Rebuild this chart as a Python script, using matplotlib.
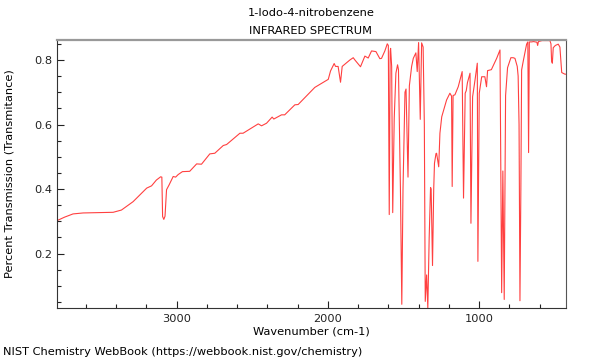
import matplotlib
matplotlib.use("Agg")
import matplotlib.pyplot as plt
from matplotlib.ticker import MultipleLocator

title = "1-Iodo-4-nitrobenzene"
subtitle = "INFRARED SPECTRUM"
xlabel = "Wavenumber (cm-1)"
ylabel = "Percent Transmission (Transmitance)"
footer = "NIST Chemistry WebBook (https://webbook.nist.gov/chemistry)"

wavenumber = [
    3791, 3740, 3684, 3617, 3500, 3419, 3364, 3287, 3197, 3165, 3133, 3105, 3097,
    3092, 3084, 3076, 3066, 3049, 3022, 3006, 2989, 2961, 2913, 2867, 2835, 2780,
    2747, 2691, 2669, 2581, 2560, 2460, 2438, 2405, 2368, 2357, 2306, 2285, 2218,
    2196, 2086, 1997, 1982, 1958, 1949, 1932, 1916, 1905, 1854, 1832, 1821, 1784,
    1755, 1733, 1711, 1682, 1656, 1645, 1623, 1607, 1600, 1594, 1588, 1585, 1578,
    1571, 1561, 1550, 1539, 1533, 1520, 1511, 1503, 1490, 1483, 1470, 1461, 1446,
    1435, 1418, 1409, 1400, 1389, 1380, 1370, 1362, 1356, 1347, 1339, 1330, 1321,
    1317, 1308, 1300, 1295, 1285, 1281, 1267, 1259, 1247, 1215, 1193, 1182, 1178,
    1172, 1160, 1138, 1112, 1103, 1092, 1085, 1077, 1060, 1054, 1043, 1027, 1012,
    1008, 999, 983, 962, 951, 944, 919, 884, 862, 851, 843, 834, 825, 812, 790,
    775, 763, 748, 742, 736, 730, 724, 719, 708, 686, 678, 673, 668, 653, 640,
    618, 613, 608, 584, 532, 525, 521, 516, 510, 496, 477, 466, 454, 433, 427,
]
transmittance = [
    0.302, 0.313, 0.323, 0.326, 0.327, 0.328, 0.335, 0.361, 0.403, 0.410, 0.428, 0.438, 0.437,
    0.315, 0.306, 0.316, 0.398, 0.413, 0.439, 0.437, 0.445, 0.454, 0.455, 0.478, 0.477, 0.509,
    0.511, 0.535, 0.538, 0.573, 0.573, 0.602, 0.596, 0.604, 0.623, 0.617, 0.630, 0.630, 0.661,
    0.662, 0.715, 0.740, 0.766, 0.789, 0.780, 0.780, 0.731, 0.780, 0.800, 0.807, 0.800, 0.779,
    0.812, 0.806, 0.828, 0.826, 0.804, 0.805, 0.828, 0.850, 0.845, 0.321, 0.826, 0.836, 0.780,
    0.327, 0.620, 0.759, 0.785, 0.770, 0.400, 0.043, 0.400, 0.700, 0.710, 0.437, 0.720, 0.780,
    0.805, 0.822, 0.764, 0.854, 0.616, 0.853, 0.840, 0.600, 0.052, 0.134, 0.031, 0.250, 0.405,
    0.400, 0.163, 0.400, 0.480, 0.510, 0.511, 0.469, 0.573, 0.624, 0.676, 0.697, 0.688, 0.408,
    0.690, 0.692, 0.717, 0.764, 0.372, 0.697, 0.705, 0.730, 0.759, 0.294, 0.686, 0.738, 0.790,
    0.176, 0.697, 0.748, 0.748, 0.717, 0.767, 0.770, 0.805, 0.831, 0.079, 0.456, 0.058, 0.690,
    0.776, 0.807, 0.807, 0.805, 0.780, 0.750, 0.600, 0.054, 0.400, 0.769, 0.797, 0.849, 0.856,
    0.513, 0.856, 0.856, 0.857, 0.855, 0.845, 0.857, 0.860, 0.860, 0.850, 0.797, 0.790, 0.838,
    0.845, 0.849, 0.840, 0.761, 0.756, 0.756,
]

xlim = (3790, 427)
ylim = (0.031, 0.862)
fs = 8.2

fig = plt.figure(figsize=(6, 3.6), dpi=100)
ax = fig.add_axes([0.095, 0.144, 0.848, 0.745])
ax.plot(wavenumber, transmittance, color="#ff0000", alpha=0.75, lw=0.8)
ax.set_xlim(*xlim)
ax.set_ylim(*ylim)

ax.xaxis.set_major_locator(MultipleLocator(1000))
ax.xaxis.set_minor_locator(MultipleLocator(200))
ax.yaxis.set_major_locator(MultipleLocator(0.2))
ax.yaxis.set_minor_locator(MultipleLocator(0.05))
ax.tick_params(which="both", direction="in", labelsize=fs, colors="#222222")
ax.tick_params(which="major", length=5, width=0.8)
ax.tick_params(which="minor", length=3, width=0.8)
ax.tick_params(axis="x", pad=4)

ax.spines["top"].set_color("#999999")
ax.spines["top"].set_linewidth(1.6)
ax.spines["right"].set_color("#555555")
ax.spines["left"].set_color("#333333")
ax.spines["bottom"].set_color("#333333")

ax.set_xlabel(xlabel, fontsize=fs)
ax.set_ylabel(ylabel, fontsize=fs)
ax.xaxis.set_label_coords(0.5, -0.068)
ax.yaxis.set_label_coords(-0.083, 0.5)
fig.text(0.518, 0.963, title, ha="center", va="center", fontsize=fs)
fig.text(0.518, 0.915, subtitle, ha="center", va="center", fontsize=fs)
fig.text(0.005, 0.022, footer, ha="left", va="center", fontsize=fs)

fig.savefig("out.png", dpi=100)
